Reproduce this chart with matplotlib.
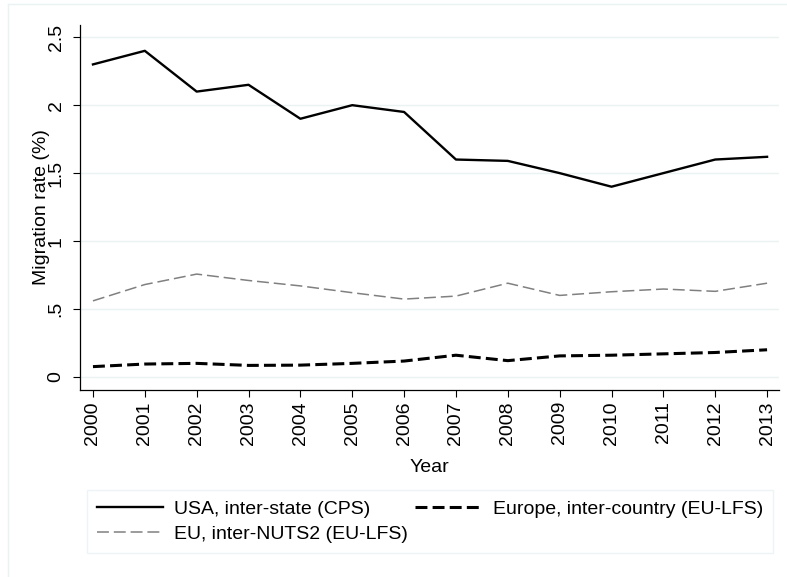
import numpy as np
import matplotlib
matplotlib.use('Agg')
import matplotlib.pyplot as plt
from matplotlib.lines import Line2D


# Data.
years = list(range(2000, 2014))
usa_interstate = [2.30, 2.40, 2.10, 2.15, 1.90, 2.00, 1.95, 1.60, 1.59, 1.50,
                  1.40, 1.50, 1.60, 1.62]
europe_intercountry = [0.076, 0.095, 0.10, 0.085, 0.087, 0.10, 0.117, 0.16,
                       0.12, 0.155, 0.16, 0.17, 0.18, 0.20]
eu_internuts2 = [0.56, 0.68, 0.757, 0.71, 0.67, 0.62, 0.573, 0.595, 0.69,
                 0.60, 0.627, 0.647, 0.63, 0.69]
series_labels = ['USA, inter-state (CPS)', 'Europe, inter-country (EU-LFS)',
                 'EU, inter-NUTS2 (EU-LFS)']
y_ticks = [0, 0.5, 1, 1.5, 2, 2.5]
y_ticklabels = ['0', '.5', '1', '1.5', '2', '2.5']

plt.rcParams['font.family'] = ['Liberation Sans', 'DejaVu Sans']
fs = 14
grid_col = '#eaf2f3'

# line styles
usa_style = dict(color='black', lw=1.7)
eur_style = dict(color='black', lw=2.2, dashes=(3.9, 1.7))
nuts_style = dict(color='#808080', lw=1.1, dashes=(7.8, 3.2))

W, H = 787, 577
fig = plt.figure(figsize=(W / 100, H / 100), dpi=100)
ax = fig.add_axes([80 / W, 1 - 390 / H, 699 / W, 365 / H])

ax.plot(years, usa_interstate, **usa_style)
ax.plot(years, europe_intercountry, **eur_style)
ax.plot(years, eu_internuts2, **nuts_style)

ax.set_xlim(1999.75, 2013.23)
ax.set_ylim(-0.096, 2.59)
ax.set_xticks(years)
ax.set_xticklabels([str(y) for y in years], rotation=90, fontsize=fs)
ax.set_yticks(y_ticks)
ax.set_yticklabels(y_ticklabels, rotation=90, fontsize=fs, va='center')
ax.tick_params(axis='both', length=5, width=0.8, color='black')
ax.tick_params(axis='y', pad=6)
ax.tick_params(axis='x', pad=3)

ax.grid(axis='y', color=grid_col, lw=1.0)
ax.set_axisbelow(True)
for s in ['top', 'right']:
    ax.spines[s].set_visible(False)
ax.spines['left'].set_linewidth(0.9)
ax.spines['bottom'].set_linewidth(0.9)

ax.set_ylabel('Migration rate (%)', fontsize=fs)
ax.yaxis.label.set_verticalalignment('center')
ax.yaxis.set_label_coords((42 - 80) / 699, 0.5)
ax.set_xlabel('Year', fontsize=fs)
ax.xaxis.label.set_verticalalignment('center')
ax.xaxis.set_label_coords(0.5, -(467 - 390) / 365)

# legend, two columns, usa / europe on first row
handles = [Line2D([], [], **usa_style),
           Line2D([], [], **eur_style),
           Line2D([], [], **nuts_style)]
order = [0, 2, 1]
leg = fig.legend([handles[i] for i in order], [series_labels[i] for i in order],
                 ncol=2, loc='lower left',
                 bbox_to_anchor=(87 / W, 1 - 553 / H, 686 / W, 65 / H),
                 mode='expand', fontsize=fs, frameon=True, fancybox=False,
                 handlelength=3.4, handletextpad=0.6, borderaxespad=0,
                 labelspacing=0.42, borderpad=0.5)
leg.get_frame().set_edgecolor(grid_col)
leg.get_frame().set_linewidth(1.0)

# faint outer frame
fig.add_artist(Line2D([8 / W, 8 / W], [0, 1 - 4 / H], color=grid_col, lw=1.0))
fig.add_artist(Line2D([8 / W, 1], [1 - 4 / H, 1 - 4 / H], color=grid_col, lw=1.0))

fig.savefig('out.png', dpi=100)
